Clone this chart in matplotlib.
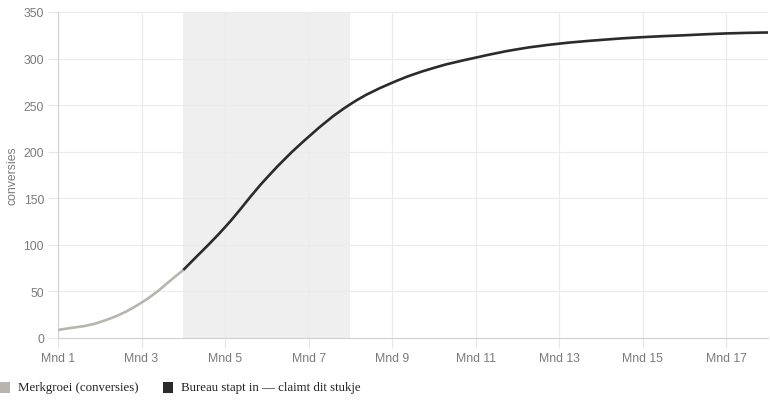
import numpy as np
import matplotlib
matplotlib.use("Agg")
import matplotlib.pyplot as plt
from matplotlib.path import Path
from matplotlib.patches import PathPatch, Rectangle
from matplotlib.transforms import IdentityTransform

# data
months = list(range(1, 19))
merkgroei = [8.6, 17, 38, 73]                     # Mnd 1 - Mnd 4
bureau = [73, 119, 172, 216, 251, 274, 290, 301,  # Mnd 4 - Mnd 18
          310, 316, 320, 323, 325, 327, 328]
xlabels = ["Mnd %d" % m for m in months]
band = (4, 8)

W, H, DPI = 770, 414, 100
fig = plt.figure(figsize=(W / DPI, H / DPI), dpi=DPI)
ax = fig.add_axes([58 / W, 1 - 339 / H, 710 / W, 326 / H])
ax.set_xlim(1, 18)
ax.set_ylim(0, 350)

ax.axvspan(band[0], band[1], color="#efefef", lw=0, zorder=0)

for v in range(0, 351, 50):
    ax.axhline(v, color="#ebebeb", lw=0.8, zorder=1)
for m in months[::2]:
    ax.axvline(m, color="#ebebeb", lw=0.8, zorder=1)

ax.set_xticks(months[::2])
ax.set_xticklabels(xlabels[::2])
ax.set_yticks(range(0, 351, 50))
ax.tick_params(length=7, width=0.8, color="#e6e6e6", labelcolor="#7a7a7a",
               labelsize=8.8, pad=3)
for lab in ax.get_xticklabels() + ax.get_yticklabels():
    lab.set_family("Liberation Sans")
for s in ["top", "right"]:
    ax.spines[s].set_visible(False)
ax.spines["left"].set_color("#d0d0d0")
ax.spines["bottom"].set_color("#d0d0d0")
ax.set_ylabel("conversies", color="#7a7a7a", fontsize=8.8, family="Liberation Sans",
              labelpad=4)


def smooth(xs, ys, color, t=0.4):
    # Chart.js-style bezier drawn in pixel space
    pts = ax.transData.transform(np.column_stack([xs, ys]))
    n = len(pts)
    cps = []
    for i in range(n):
        p = pts[max(i - 1, 0)]
        c = pts[i]
        nx = pts[min(i + 1, n - 1)]
        d01 = np.hypot(*(c - p))
        d12 = np.hypot(*(nx - c))
        tot = d01 + d12
        s01 = d01 / tot if tot else 0
        s12 = d12 / tot if tot else 0
        cps.append((c - t * s01 * (nx - p), c + t * s12 * (nx - p)))
    verts = [pts[0]]
    codes = [Path.MOVETO]
    for i in range(1, n):
        verts += [cps[i - 1][1], cps[i][0], pts[i]]
        codes += [Path.CURVE4] * 3
    ax.add_patch(PathPatch(Path(verts, codes), transform=IdentityTransform(),
                           fill=False, edgecolor=color, lw=1.9, zorder=3,
                           capstyle="butt"))


smooth(months[:4], merkgroei, "#b7b5ad")
smooth(months[3:], bureau, "#2b2b2b")

# legend
fig.patches.append(Rectangle((0, 1 - 394 / H), 10 / W, 11 / H, transform=fig.transFigure,
                             facecolor="#b7b5ad", edgecolor="none"))
fig.text(18 / W, 1 - 388 / H, "Merkgroei (conversies)", va="center",
         family="Liberation Serif", fontsize=9.3, color="#222")
fig.patches.append(Rectangle((163 / W, 1 - 394 / H), 10 / W, 11 / H, transform=fig.transFigure,
                             facecolor="#2b2b2b", edgecolor="none"))
fig.text(181 / W, 1 - 388 / H, "Bureau stapt in \u2014 claimt dit stukje", va="center",
         family="Liberation Serif", fontsize=9.3, color="#222")

fig.savefig("out.png", dpi=DPI)
